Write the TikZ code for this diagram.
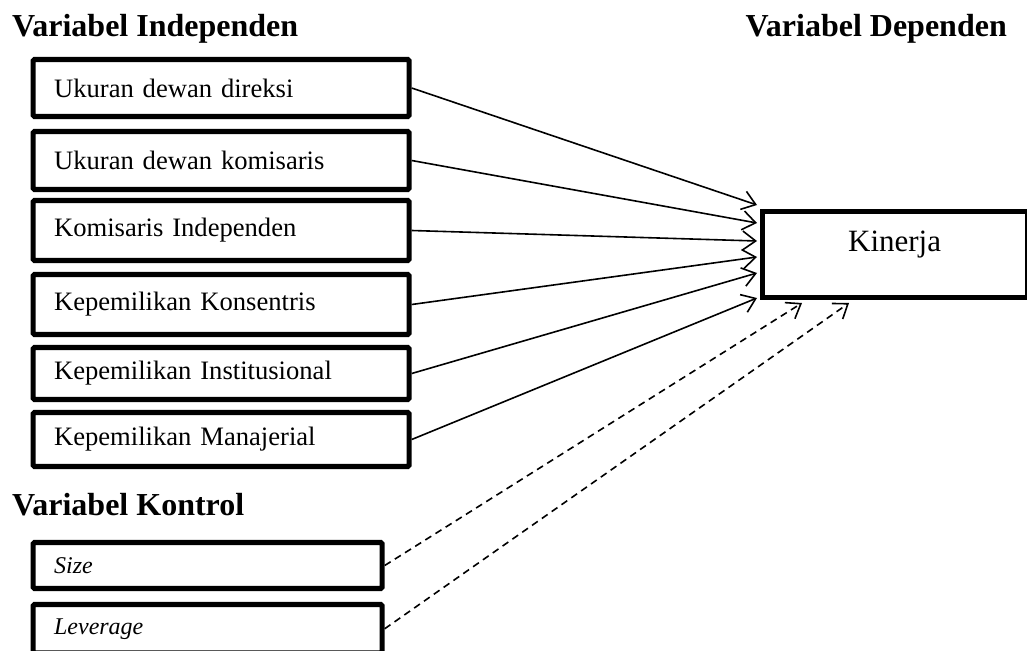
\documentclass[tikz,border=0pt]{standalone}
\usepackage{fontspec}
\setmainfont{Liberation Serif}
\usetikzlibrary{arrows.meta,calc}
\begin{document}
\begin{tikzpicture}[x=1pt,y=-1pt,
  ivbox/.style={draw,line width=5.2pt,rounded corners=1.5pt,anchor=west,
    inner xsep=21pt,inner ysep=0pt,text width=334pt,align=left,
    font=\fontsize{26.6}{30}\selectfont},
  cvbox/.style={draw,line width=5.2pt,rounded corners=1.5pt,anchor=west,
    inner xsep=21pt,inner ysep=0pt,text width=307pt,align=left,
    font=\fontsize{24}{28}\selectfont\itshape},
  head/.style={inner sep=0pt,font=\fontsize{32}{36}\selectfont\bfseries},
  link/.style={line width=1.6pt,-{Straight Barb[length=13pt,width=19pt,line width=1.6pt]}},
  ctrl/.style={link,dash pattern=on 7pt off 5pt}]
\useasboundingbox (0,0) rectangle (1027,650);
\fill[white] (0,0) rectangle (1027,650);
% headers
\node[head,anchor=base west] (hi) at (12,37) {Variabel Independen};
\node[head,anchor=base east] (hd) at (1007,37) {Variabel Dependen};
\node[head,anchor=base west] (hk) at (12,515) {Variabel Kontrol};
% independent boxes
\node[ivbox,minimum height=57pt] (b1) at (30.5,88) {Ukuran dewan direksi};
\node[ivbox,minimum height=58pt] (b2) at (30.5,160.5) {Ukuran dewan komisaris};
\node[ivbox,minimum height=60pt] (b3) at (30.5,230.5) {Komisaris Independen};
\node[ivbox,minimum height=60pt] (b4) at (30.5,304.5) {Kepemilikan Konsentris};
\node[ivbox,minimum height=52pt] (b5) at (30.5,373.5) {Kepemilikan Institusional};
\node[ivbox,minimum height=54pt] (b6) at (30.5,439.5) {Kepemilikan Manajerial};
% control boxes
\node[cvbox,minimum height=46pt] (c1) at (30.5,565.5) {Size};
\node[cvbox,minimum height=48.5pt] (c2) at (30.5,628.75) {Leverage};
% dependent
\node[draw,line width=5.2pt,minimum width=265pt,minimum height=86pt,anchor=north west,
  label={[font=\fontsize{31}{34}\selectfont,yshift=10pt]center:Kinerja}] (kin) at (759.5,208.5) {};
% arrow targets
\coordinate (t1) at (757,205);
\coordinate (t2) at (757,223);
\coordinate (t3) at (757,241);
\coordinate (t4) at (757,257);
\coordinate (t5) at (757,273);
\coordinate (t6) at (757,298);
\coordinate (d1) at (802,303);
\coordinate (d2) at (849,303);
\draw[link] (b1.east) -- (t1);
\draw[link] (b2.east) -- (t2);
\draw[link] (b3.east) -- (t3);
\draw[link] (b4.east) -- (t4);
\draw[link] (b5.east) -- (t5);
\draw[link] (b6.east) -- (t6);
\draw[ctrl] (c1.east) -- (d1);
\draw[ctrl] (c2.east) -- (d2);
\end{tikzpicture}
\end{document}
